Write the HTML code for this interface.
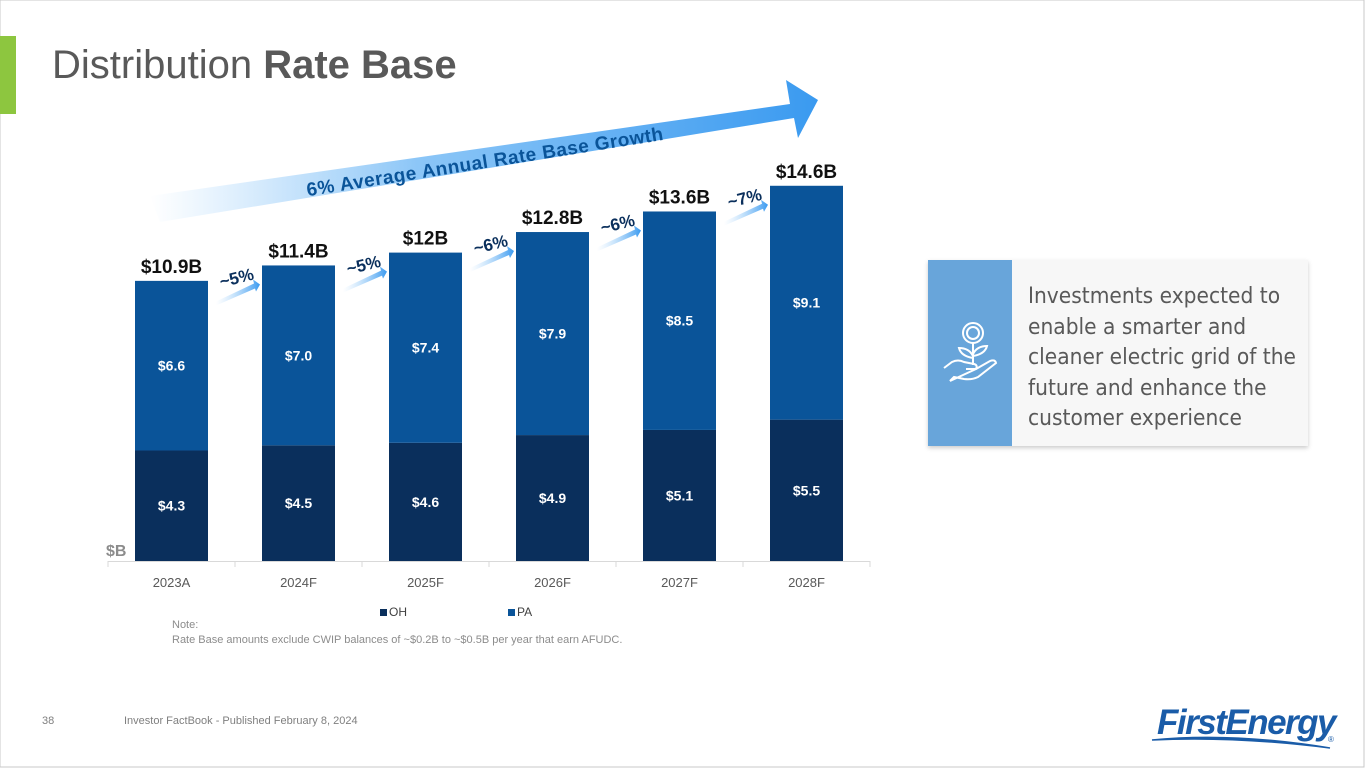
<!DOCTYPE html>
<html><head><meta charset="utf-8"><style>
body{margin:0;width:1365px;height:768px;overflow:hidden;background:#fff;font-family:"Liberation Sans",sans-serif}
</style></head><body>
<svg width="1365" height="768" xmlns="http://www.w3.org/2000/svg">
<defs>
<linearGradient id="g1" x1="0" y1="0" x2="1" y2="0"><stop offset="0" stop-color="#9fd0fa" stop-opacity="0"/><stop offset="0.4" stop-color="#8cc6f7"/><stop offset="1" stop-color="#3a9af0"/></linearGradient>
<linearGradient id="g2" x1="0" y1="0" x2="1" y2="0"><stop offset="0" stop-color="#9fd0fa" stop-opacity="0"/><stop offset="1" stop-color="#3a9af0"/></linearGradient>
<filter id="sh" x="-5%" y="-5%" width="110%" height="115%"><feDropShadow dx="0" dy="2" stdDeviation="2" flood-color="#000" flood-opacity="0.2"/></filter>
</defs>
<rect x="0" y="0" width="1364" height="767" fill="none" stroke="#c8c8c8" stroke-width="1"/>
<rect x="0" y="36" width="16" height="78" fill="#8dc63f"/>
<text x="52" y="78" font-size="40" fill="#595959">Distribution <tspan font-weight="bold">Rate Base</tspan></text>

<g>
<polygon points="150,196 790,104 786,80 818,100 798,138 794,118 160,222" fill="url(#g1)"/>
<text transform="translate(486,168) rotate(-9)" text-anchor="middle" font-size="19" font-weight="bold" fill="#0a5499" letter-spacing="0.5">6% Average Annual Rate Base Growth</text>
</g>

<g id="chart"></g>

<text x="106" y="556" font-size="16" font-weight="bold" fill="#8c8c8c">$B</text>

<g>
<rect x="380" y="609" width="7" height="7" fill="#0a2f5c"/>
<text x="389" y="616" font-size="12" fill="#404040">OH</text>
<rect x="508" y="609" width="7" height="7" fill="#0a5499"/>
<text x="517" y="616" font-size="12" fill="#404040">PA</text>
</g>
<text x="172" y="628" font-size="11" fill="#8c8c8c">Note:</text>
<text x="172" y="643" font-size="11" fill="#8c8c8c">Rate Base amounts exclude CWIP balances of ~$0.2B to ~$0.5B per year that earn AFUDC.</text>

<g filter="url(#sh)">
<rect x="928" y="260" width="380" height="186" fill="#f7f7f7"/>
<rect x="928" y="260" width="84" height="186" fill="#68a5da"/>
</g>
<g fill="none" stroke="#fff" stroke-width="2">
<circle cx="973" cy="333" r="10"/><circle cx="973" cy="333" r="6"/>
<line x1="973" y1="343" x2="973" y2="365"/>
<path d="M973 358 q-12 -2 -14 -10 q10 0 14 8 M973 356 q12 -2 14 -10 q-10 0 -14 8"/>
<path d="M944 368 l8 -6 q6 -3 12 0 l10 2 q4 1 2 5 l-10 0 m10 0 l14 -8 q5 -2 6 2 l-18 14 q-6 3 -14 2 l-10 -2 l-4 4 z"/>
</g>
<text font-size="22.5" fill="#595959" font-family="'DejaVu Sans Condensed','Liberation Sans Narrow','Liberation Sans',sans-serif">
<tspan x="1028" y="303">Investments expected to</tspan>
<tspan x="1028" y="334">enable a smarter and</tspan>
<tspan x="1028" y="364">cleaner electric grid of the</tspan>
<tspan x="1028" y="395">future and enhance the</tspan>
<tspan x="1028" y="425">customer experience</tspan>
</text>

<text x="42" y="724" font-size="11" fill="#7f7f7f">38</text>
<text x="124" y="724" font-size="11" fill="#7f7f7f">Investor FactBook - Published February 8, 2024</text>
<g>
<text x="1157" y="734" font-size="35" font-weight="bold" font-style="italic" fill="#1a5ca8" letter-spacing="-1.5">FirstEnergy</text>
<path d="M1152 740 q80 -8 178 8 q-95 -12 -178 -8z" fill="#1a5ca8" stroke="#1a5ca8" stroke-width="1.5"/>
<text x="1328" y="742" font-size="8" fill="#1a5ca8">®</text>
</g>
</svg>
<script>
const categories=["2023A","2024F","2025F","2026F","2027F","2028F"];
const ohValues=[4.3,4.5,4.6,4.9,5.1,5.5];
const paValues=[6.6,7.0,7.4,7.9,8.5,9.1];
const totalLabels=["$10.9B","$11.4B","$12B","$12.8B","$13.6B","$14.6B"];
const growthLabels=["~5%","~5%","~6%","~6%","~7%"];
const NS="http://www.w3.org/2000/svg";
const g=document.getElementById('chart');
const base=561, ppu=25.7, x0=108, step=127, bw=73;
const y=v=>base-v*ppu;
const xc=i=>x0+step*i+step/2;
function mk(t,a){const e=document.createElementNS(NS,t);for(const k in a)e.setAttribute(k,a[k]);g.appendChild(e);return e;}
const axis=mk('line',{x1:x0,y1:base+0.5,x2:x0+step*6,y2:base+0.5,stroke:'#d9d9d9'});


for(let i=0;i<=6;i++){const t=mk('line',{x1:x0+step*i,y1:base,x2:x0+step*i,y2:base+6,stroke:'#d9d9d9'});

}
categories.forEach((c,i)=>{
 const cx=xc(i),oh=ohValues[i],pa=paValues[i],tot=oh+pa;
 const r1=mk('rect',{x:cx-bw/2,y:y(oh),width:bw,height:oh*ppu,fill:'#0a2f5c'});
 
 
 const r2=mk('rect',{x:cx-bw/2,y:y(tot),width:bw,height:pa*ppu,fill:'#0a5499'});
 
 
 const l1=mk('text',{x:cx,y:y(oh/2)+5,'text-anchor':'middle','font-size':14,'font-weight':'bold',fill:'#fff'});l1.textContent='$'+oh.toFixed(1);
 
 
 const l2=mk('text',{x:cx,y:y(oh+pa/2)+5,'text-anchor':'middle','font-size':14,'font-weight':'bold',fill:'#fff'});l2.textContent='$'+pa.toFixed(1);
 
 
 const l3=mk('text',{x:cx,y:y(tot)-8,'text-anchor':'middle','font-size':19,'font-weight':'bold',fill:'#111'});l3.textContent=totalLabels[i];
 
 
 const l4=mk('text',{x:cx,y:base+26,'text-anchor':'middle','font-size':13,fill:'#595959'});l4.textContent=c;
 
 
});
growthLabels.forEach((s,i)=>{
 const xa=xc(i)+bw/2+8, xb=xc(i+1)-bw/2-2, ya=y(ohValues[i+1]+paValues[i+1])+24;
 const yb=ya-6, yt=ya+12;
 const ar=mk('polygon',{points:`${xa},${yt} ${xb-6},${yb} ${xb-7},${yb-4} ${xb},${yb+1} ${xb-4},${yb+8} ${xb-5},${yb+5} ${xa},${yt+4}`,fill:'url(#g2)'});
 
 
 const tx=mk('text',{transform:`translate(${(xa+xb)/2},${ya-6}) rotate(-14)`,'text-anchor':'middle','font-size':17,'font-weight':'bold',fill:'#0a2f5c'});tx.textContent=s;
 
 
});
</script>
</body></html>
